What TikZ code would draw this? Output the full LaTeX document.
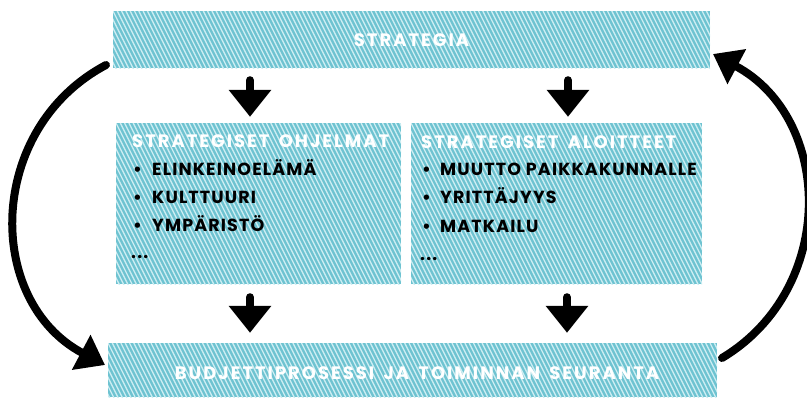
\documentclass[tikz,border=0pt]{standalone}
\usepackage{fontspec}
\setmainfont{Poppins}
\newfontfamily\hfont{Poppins}[LetterSpace=11,WordSpace=1.6]
\newfontfamily\ifont{Poppins}[LetterSpace=6.5,WordSpace=1.0]
\usetikzlibrary{arrows.meta}
\definecolor{tealbase}{RGB}{110,195,209}
\definecolor{tealstripe}{RGB}{205,237,242}
\tikzset{
  stripe/.style={draw=tealstripe, line width=1.3pt},
  hatchbox/.style={inner sep=0pt, draw=none, fill=tealbase,
    path picture={\foreach \k in {-25,...,155}{\draw[stripe] ([xshift=\k*4.3pt]path picture bounding box.north west) -- ++(90pt,-180pt);}}},
  hdr/.style={text=white, font=\hfont\bfseries\fontsize{18}{21}\selectfont, inner sep=0pt},
  itm/.style={text=black, font=\ifont\bfseries\fontsize{17.5}{20}\selectfont, inner sep=0pt, anchor=base west},
  flow/.style={line width=8pt, line cap=round, -{Triangle[length=27pt,width=41pt]}},
  curvearrow/.style={line width=8pt, line cap=round, -{Triangle[length=27pt,width=38pt]}},
}
\begin{document}
\begin{tikzpicture}[x=1pt,y=-1pt]
\useasboundingbox (0,0) rectangle (807,397);
% boxes
\node[hatchbox, minimum width=597pt, minimum height=57pt] (top) at (411.5,39.5) {};
\node[hatchbox, minimum width=285pt, minimum height=161pt] (left) at (258.5,203.5) {};
\node[hatchbox, minimum width=291pt, minimum height=161pt] (right) at (556.5,203.5) {};
\node[hatchbox, minimum width=609pt, minimum height=54pt] (bottom) at (412.5,370) {};
% texts
\node[hdr, anchor=base] (ttop) at (411.5,46) {STRATEGIA};
\node[hdr, anchor=base] (tbot) at (417,379) {BUDJETTIPROSESSI JA TOIMINNAN SEURANTA};
\node[hdr, anchor=base west] (tleft) at (132,147) {STRATEGISET OHJELMAT};
\node[hdr, anchor=base west] (tright) at (421,148) {STRATEGISET ALOITTEET};
\node[itm] (lb1) at (133,175) {•};
\node[itm] (li1) at (152,175) {ELINKEINOELÄMÄ};
\node[itm] (lb2) at (133,203) {•};
\node[itm] (li2) at (152,203) {KULTTUURI};
\node[itm] (lb3) at (133,231) {•};
\node[itm] (li3) at (152,231) {YMPÄRISTÖ};
\node[itm] (ld) at (131,258) {...};
\node[itm] (rb1) at (422,175) {•};
\node[itm] (ri1) at (440,175) {MUUTTO PAIKKAKUNNALLE};
\node[itm] (rb2) at (422,203) {•};
\node[itm] (ri2) at (440,203) {YRITTÄJYYS};
\node[itm] (rb3) at (422,232) {•};
\node[itm] (ri3) at (440,232) {MATKAILU};
\node[itm] (rd) at (420,260) {...};
% straight arrows
\coordinate (xa) at (250,0);
\coordinate (xb) at (568,0);
\coordinate (xc) at (567,0);
\draw[flow, shorten <=12pt, shorten >=6pt] (xa |- top.south) -- (xa |- left.north);
\draw[flow, shorten <=12pt, shorten >=6pt] (xb |- top.south) -- (xb |- right.north);
\draw[flow, shorten <=13pt, shorten >=10pt] (xa |- left.south) -- (xa |- bottom.north);
\draw[flow, shorten <=13pt, shorten >=10pt] (xc |- right.south) -- (xc |- bottom.north);
% curved arrows
\coordinate (l1) at (106,65);
\coordinate (l2) at (105,365);
\coordinate (r1) at (722,358);
\coordinate (r2) at (713,54);
\draw[curvearrow] (l1) to[out=208,in=152,looseness=1.16] (l2);
\draw[curvearrow] (r1) to[out=31,in=-28,looseness=1.14] (r2);
\end{tikzpicture}
\end{document}
